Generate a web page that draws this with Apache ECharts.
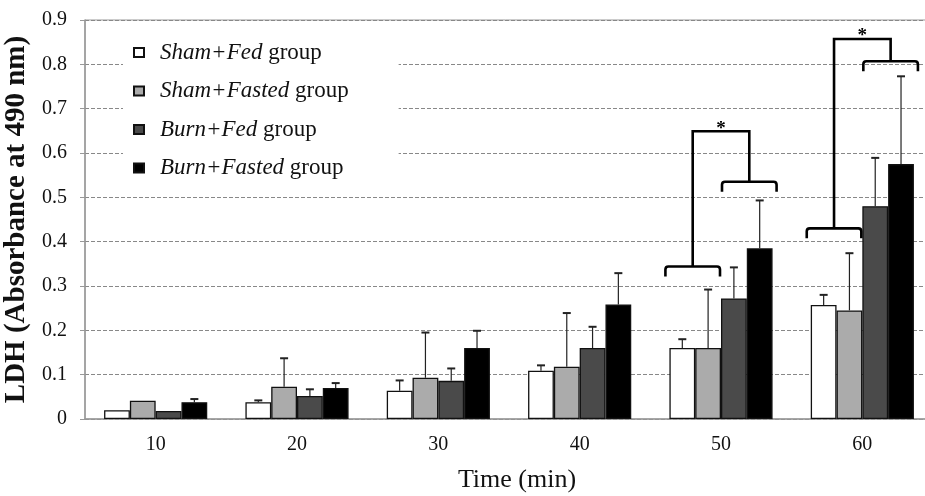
<!DOCTYPE html>
<html>
<head>
<meta charset="utf-8">
<script src="https://cdn.jsdelivr.net/npm/echarts@6/dist/echarts.min.js"></script>
<style>
  html, body { margin: 0; padding: 0; background: #fff; }
  #chart { width: 925px; height: 496px; }
</style>
</head>
<body>
<div id="chart"></div>
<script>
// 横坐标：时间 (min)
var categories = ['10', '20', '30', '40', '50', '60'];
var groupNames = ['Sham+Fed', 'Sham+Fasted', 'Burn+Fed', 'Burn+Fasted'];
var groupColors = ['#ffffff', '#ababab', '#4a4a4a', '#000000'];

// 柱高（均值）
var shamFed     = [0.020, 0.038, 0.064, 0.109, 0.160, 0.257];
var shamFasted  = [0.041, 0.073, 0.093, 0.118, 0.160, 0.245];
var burnFed     = [0.018, 0.052, 0.086, 0.160, 0.272, 0.480];
var burnFasted  = [0.038, 0.070, 0.160, 0.258, 0.385, 0.575];

// 误差线顶端
var shamFedErr    = [0.020, 0.042, 0.087, 0.121, 0.180, 0.280];
var shamFastedErr = [0.041, 0.137, 0.195, 0.239, 0.292, 0.374];
var burnFedErr    = [0.018, 0.067, 0.114, 0.208, 0.342, 0.589];
var burnFastedErr = [0.045, 0.081, 0.199, 0.329, 0.493, 0.773];

// 显著性括号: [类别序号, 左括号高度, 右括号高度, 顶部高度]
var brackets = [
  [4, 0.344, 0.535, 0.649],
  [5, 0.430, 0.807, 0.857]
];

var yTicks = [0, 0.1, 0.2, 0.3, 0.4, 0.5, 0.6, 0.7, 0.8, 0.9];

var values = [shamFed, shamFasted, burnFed, burnFasted];
var errs = [shamFedErr, shamFastedErr, burnFedErr, burnFastedErr];

var SERIF = '"Liberation Serif", "Times New Roman", serif';
var BAR_SHARE = 0.73; // 四根柱子占类别宽度的比例

function barX(api, cat, k) {
  var band = api.size([1, 0])[0];
  var w = band * BAR_SHARE / 4;
  return api.coord([cat, 0])[0] + (k - 1.5) * w;
}

var series = [];
groupNames.forEach(function (name, k) {
  series.push({
    name: name,
    type: 'bar',
    data: values[k],
    barGap: '0%',
    barCategoryGap: '27%',
    itemStyle: { color: groupColors[k], borderColor: '#111', borderWidth: 1.3 }
  });
});
// 误差线
groupNames.forEach(function (name, k) {
  series.push({
    type: 'custom',
    silent: true,
    z: 5,
    data: categories.map(function (c, i) { return [i, values[k][i], errs[k][i]]; }),
    renderItem: function (params, api) {
      var i = api.value(0);
      var x = barX(api, i, k);
      var y0 = api.coord([i, api.value(1)])[1];
      var y1 = api.coord([i, api.value(2)])[1];
      if (y0 - y1 < 1) return null;
      return {
        type: 'group',
        children: [
          { type: 'line', shape: { x1: x, y1: y0, x2: x, y2: y1 }, style: { stroke: '#222', lineWidth: 1.2 } },
          { type: 'line', shape: { x1: x - 4, y1: y1, x2: x + 4, y2: y1 }, style: { stroke: '#222', lineWidth: 2 } }
        ]
      };
    }
  });
});
// 括号和星号
series.push({
  type: 'custom',
  silent: true,
  z: 6,
  data: brackets,
  renderItem: function (params, api) {
    var i = api.value(0);
    var band = api.size([1, 0])[0];
    var w = band * BAR_SHARE / 4;
    var c = api.coord([i, 0])[0];
    var yl = api.coord([i, api.value(1)])[1];
    var yr = api.coord([i, api.value(2)])[1];
    var yt = api.coord([i, api.value(3)])[1];
    var h = 10, r = 3;
    function brace(x1, x2, y) {
      return 'M' + x1 + ',' + (y + h) + ' L' + x1 + ',' + (y + r) +
        ' Q' + x1 + ',' + y + ' ' + (x1 + r) + ',' + y +
        ' L' + (x2 - r) + ',' + y +
        ' Q' + x2 + ',' + y + ' ' + x2 + ',' + (y + r) +
        ' L' + x2 + ',' + (y + h);
    }
    var lx1 = c - 2 * w - 4, lx2 = c - 1;
    var rx1 = c + 1, rx2 = c + 2 * w + 4;
    var lm = (lx1 + lx2) / 2, rm = (rx1 + rx2) / 2;
    var style = { stroke: '#000', lineWidth: 2.6, fill: null };
    return {
      type: 'group',
      children: [
        { type: 'path', shape: { pathData: brace(lx1, lx2, yl) }, style: style },
        { type: 'path', shape: { pathData: brace(rx1, rx2, yr) }, style: style },
        { type: 'polyline', shape: { points: [[lm, yl], [lm, yt], [rm, yt], [rm, yr]] }, style: style },
        { type: 'text', style: { text: '*', x: (lm + rm) / 2, y: yt + 7, textAlign: 'center', textVerticalAlign: 'bottom',
          font: 'bold 19px ' + SERIF, fill: '#000' } }
      ]
    };
  }
});

var option = {
  backgroundColor: '#fff',
  animation: false,
  grid: {
    left: 85, top: 20, bottom: 77, width: 848,
    outerBoundsMode: 'none', containLabel: false,
    show: true, borderColor: '#999', borderWidth: 1
  },
  legend: {
    orient: 'vertical',
    left: 123,
    top: 33,
    padding: [8, 50, 8, 10],
    backgroundColor: '#fff',
    icon: 'rect',
    itemWidth: 10,
    itemHeight: 9,
    itemGap: 15.5,
    data: groupNames,
    formatter: function (name) { return '{i|' + name + '} group'; },
    textStyle: {
      fontFamily: SERIF, fontSize: 23, color: '#111', lineHeight: 23, padding: [0, 0, 0, 11],
      rich: { i: { fontFamily: SERIF, fontSize: 23, fontStyle: 'italic', color: '#111', lineHeight: 23 } }
    }
  },
  xAxis: {
    type: 'category',
    data: categories,
    name: 'Time (min)',
    nameLocation: 'middle',
    nameGap: 48,
    nameTextStyle: { fontFamily: SERIF, fontSize: 26, color: '#111', padding: [0, 0, 0, 16] },
    axisLine: { lineStyle: { color: '#999', width: 1.5 } },
    axisTick: { length: 6, lineStyle: { color: '#999' } },
    axisLabel: { fontFamily: SERIF, fontSize: 20, color: '#111', margin: 16 }
  },
  yAxis: {
    type: 'value',
    min: 0,
    max: 0.9,
    interval: 0.1,
    name: 'LDH (Absorbance at 490 nm)',
    nameLocation: 'middle',
    nameGap: 52,
    nameTextStyle: { fontFamily: SERIF, fontSize: 29, fontWeight: 'bold', color: '#111' },
    axisLine: { show: true, lineStyle: { color: '#999', width: 1.5 } },
    axisTick: { show: true, length: 5, lineStyle: { color: '#999' } },
    axisLabel: {
      fontFamily: SERIF, fontSize: 20, color: '#111', margin: 18,
      formatter: function (v) {
        var t = yTicks.filter(function (s) { return Math.abs(s - v) < 1e-6; })[0];
        return t === undefined ? '' : String(t);
      }
    },
    splitLine: { show: true, lineStyle: { color: '#888', type: [4, 2], width: 1 } }
  },
  series: series
};

var myChart = echarts.init(document.getElementById('chart'));
myChart.setOption(option);
</script>
</body>
</html>
